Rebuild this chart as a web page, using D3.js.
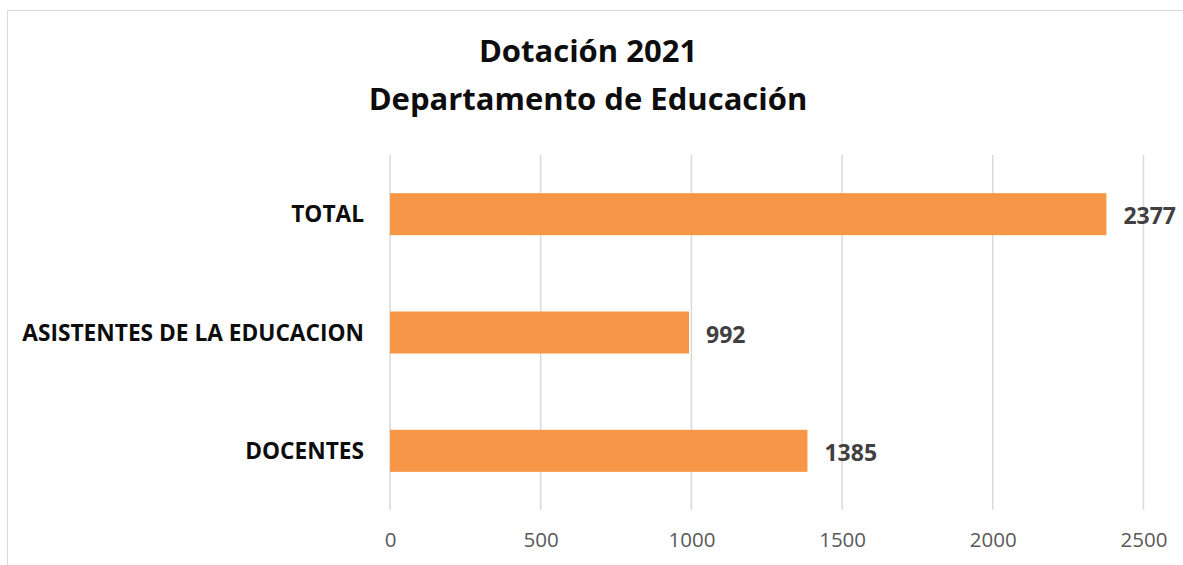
<!DOCTYPE html>
<html>
<head>
<meta charset="utf-8">
<script src="https://cdn.jsdelivr.net/npm/d3@7"></script>
<style>
  body { margin: 0; background: #fff; }
  svg { display: block; font-family: "Open Sans", "Liberation Sans", sans-serif; }
</style>
</head>
<body>
<svg id="chart" width="1183" height="565"></svg>
<script>
// data
const categories = ['TOTAL', 'ASISTENTES DE LA EDUCACION', 'DOCENTES']
const values = [2377, 992, 1385]
const xTicks = [0, 500, 1000, 1500, 2000, 2500]
const titleLines = ['Dotación 2021', 'Departamento de Educación']

const W = 1183, H = 565
const margin = {top: 155, right: 40, bottom: 55, left: 390}

let svg = d3.select('#chart')

// chart frame (light grey border, cut by the window at right/bottom)
svg.append('rect')
  .attr('x', 7.5).attr('y', 10.5)
  .attr('width', W).attr('height', H)
  .attr('fill', 'none')
  .attr('stroke', '#d9d9d9')
  .attr('stroke-width', 1)

let xScale = d3.scaleLinear()
  .domain([0, 2500])
  .range([margin.left, 1143.5])

let yScale = d3.scaleBand()
  .domain(categories)
  .range([margin.top, H - margin.bottom])
  .paddingInner(0.645)
  .paddingOuter(0.3225)

// grid
svg.append('g')
  .attr('class', 'grid')
  .selectAll('line')
  .data(xTicks)
  .enter()
  .append('line')
    .attr('x1', d => xScale(d)).attr('x2', d => xScale(d))
    .attr('y1', margin.top).attr('y2', H - margin.bottom)
    .attr('stroke', '#d9d9d9')
    .attr('stroke-width', 1.5)

// x axis (labels only)
let axisBottom = svg.append('g')
  .attr('transform', `translate(0, ${H - margin.bottom})`)
  .call(d3.axisBottom(xScale).tickValues(xTicks).tickFormat(d3.format('d')).tickSize(0).tickPadding(22))
axisBottom.select('.domain').remove()
axisBottom.selectAll('text')
  .style('font-size', '20.5px')
  .style('font-family', '"Open Sans", "Liberation Sans", sans-serif')
  .attr('fill', '#595959')

// bars
svg.append('g')
  .selectAll('rect')
  .data(values)
  .enter()
  .append('rect')
    .attr('x', xScale(0))
    .attr('y', (d, i) => yScale(categories[i]))
    .attr('width', d => xScale(d) - xScale(0))
    .attr('height', yScale.bandwidth())
    .attr('fill', '#f79646')

// value labels
svg.append('g')
  .selectAll('text')
  .data(values)
  .enter()
  .append('text')
    .attr('x', d => xScale(d) + 17)
    .attr('y', (d, i) => yScale(categories[i]) + yScale.bandwidth() / 2 + 10)
    .attr('fill', '#404040')
    .style('font-size', '23px')
    .style('font-weight', 'bold')
    .text(d => d)

// category labels
svg.append('g')
  .selectAll('text')
  .data(categories)
  .enter()
  .append('text')
    .attr('x', 364)
    .attr('y', d => yScale(d) + yScale.bandwidth() / 2 + 8)
    .attr('text-anchor', 'end')
    .attr('fill', '#0d0d0d')
    .style('font-size', '22.7px')
    .style('font-weight', 'bold')
    .text(d => d)

// title
svg.append('g')
  .selectAll('text')
  .data(titleLines)
  .enter()
  .append('text')
    .attr('x', 588)
    .attr('y', (d, i) => 62 + i * 48)
    .attr('text-anchor', 'middle')
    .attr('fill', '#0d0d0d')
    .style('font-size', '31px')
    .style('font-weight', 'bold')
    .text(d => d)
</script>
</body>
</html>
